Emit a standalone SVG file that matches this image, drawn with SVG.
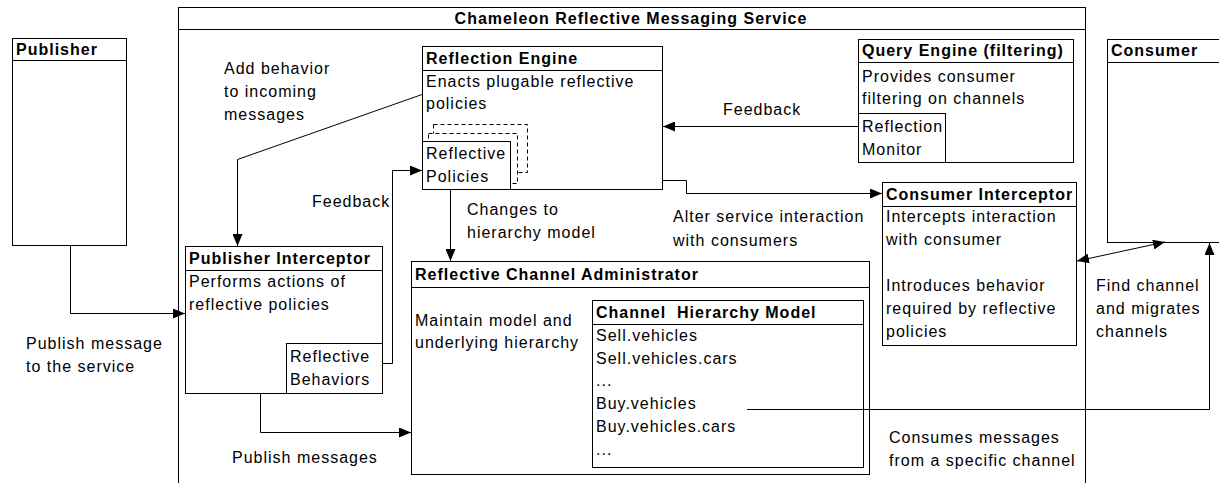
<svg xmlns="http://www.w3.org/2000/svg" width="1219" height="483" viewBox="0 0 1219 483">
  <style>
    .box { fill: #fff; stroke: #000; stroke-width: 1; }
    .rule { stroke: #000; stroke-width: 1; fill: none; }
    .dash { fill: #fff; stroke: #000; stroke-width: 1; stroke-dasharray: 4 3; }
    .t { font-family: "Liberation Sans", Arial, sans-serif; font-size: 16px; letter-spacing: 1px; fill: #000; }
    .b { font-weight: bold; }
    .conn { fill: none; stroke: #000; stroke-width: 1; }
  </style>
  <defs>
    <marker id="arrow" viewBox="0 0 12 10" refX="12" refY="5" markerWidth="12" markerHeight="10" markerUnits="userSpaceOnUse" orient="auto-start-reverse">
      <path d="M0,0 L12,5 L0,10 z" fill="#000"/>
    </marker>
  </defs>
  <rect width="1219" height="483" fill="#fff"/>

  <!-- service container -->
  <g id="service">
    <rect class="box" x="178.5" y="7.5" width="907" height="500"/>
    <line class="rule" x1="178.5" y1="29.5" x2="1085.5" y2="29.5"/>
    <text class="t b" x="631" y="24" text-anchor="middle">Chameleon Reflective Messaging Service</text>
  </g>

  <g id="publisher">
    <rect class="box" x="12.5" y="38.5" width="114" height="207"/>
    <line class="rule" x1="12.5" y1="60.5" x2="126.5" y2="60.5"/>
    <text class="t b" x="16" y="55">Publisher</text>
  </g>

  <g id="consumer">
    <rect class="box" x="1107.5" y="39.5" width="130" height="203"/>
    <line class="rule" x1="1107.5" y1="62.5" x2="1237.5" y2="62.5"/>
    <text class="t b" x="1111" y="56">Consumer</text>
  </g>

  <g id="reflection-engine">
    <rect class="box" x="422.5" y="46.5" width="240" height="143"/>
    <line class="rule" x1="422.5" y1="70.5" x2="662.5" y2="70.5"/>
    <text class="t b" x="426" y="64">Reflection Engine</text>
    <text class="t" x="426" y="87">Enacts plugable reflective</text>
    <text class="t" x="426" y="109">policies</text>
  </g>

  <g id="reflective-policies">
    <rect class="dash" x="433.5" y="124.5" width="94" height="48"/>
    <rect class="dash" x="428.5" y="133.5" width="89" height="50"/>
    <rect class="box" x="422.5" y="141.5" width="88" height="48"/>
    <text class="t" x="426" y="159">Reflective</text>
    <text class="t" x="426" y="182">Policies</text>
  </g>

  <g id="query-engine">
    <rect class="box" x="858.5" y="39.5" width="215" height="123"/>
    <line class="rule" x1="858.5" y1="62.5" x2="1073.5" y2="62.5"/>
    <text class="t b" x="862" y="56">Query Engine (filtering)</text>
    <text class="t" x="862" y="82">Provides consumer</text>
    <text class="t" x="862" y="104">filtering on channels</text>
  </g>

  <g id="reflection-monitor">
    <rect class="box" x="858.5" y="113.5" width="87" height="49"/>
    <text class="t" x="862" y="132">Reflection</text>
    <text class="t" x="862" y="155">Monitor</text>
  </g>

  <g id="consumer-interceptor">
    <rect class="box" x="882.5" y="182.5" width="194" height="163"/>
    <line class="rule" x1="882.5" y1="206.5" x2="1076.5" y2="206.5"/>
    <text class="t b" x="886" y="200">Consumer Interceptor</text>
    <text class="t" x="886" y="222">Intercepts interaction</text>
    <text class="t" x="886" y="245">with consumer</text>
    <text class="t" x="886" y="291">Introduces behavior</text>
    <text class="t" x="886" y="314">required by reflective</text>
    <text class="t" x="886" y="337">policies</text>
  </g>

  <g id="publisher-interceptor">
    <rect class="box" x="185.5" y="246.5" width="197" height="147"/>
    <line class="rule" x1="185.5" y1="270.5" x2="382.5" y2="270.5"/>
    <text class="t b" x="189" y="264">Publisher Interceptor</text>
    <text class="t" x="189" y="287">Performs actions of</text>
    <text class="t" x="189" y="310">reflective policies</text>
  </g>

  <g id="reflective-behaviors">
    <rect class="box" x="286.5" y="343.5" width="96" height="50"/>
    <text class="t" x="290" y="362">Reflective</text>
    <text class="t" x="290" y="385">Behaviors</text>
  </g>

  <g id="channel-administrator">
    <rect class="box" x="411.5" y="261.5" width="458" height="213"/>
    <line class="rule" x1="411.5" y1="287.5" x2="869.5" y2="287.5"/>
    <text class="t b" x="415" y="280">Reflective Channel Administrator</text>
    <text class="t" x="415" y="326">Maintain model and</text>
    <text class="t" x="415" y="348">underlying hierarchy</text>
  </g>

  <g id="channel-hierarchy-model">
    <rect class="box" x="592.5" y="300.5" width="271" height="167"/>
    <line class="rule" x1="592.5" y1="324.5" x2="863.5" y2="324.5"/>
    <text class="t b" x="596" y="318" xml:space="preserve">Channel  Hierarchy Model</text>
    <text class="t" x="596" y="341">Sell.vehicles</text>
    <text class="t" x="596" y="364">Sell.vehicles.cars</text>
    <text class="t" x="596" y="386">...</text>
    <text class="t" x="596" y="409">Buy.vehicles</text>
    <text class="t" x="596" y="432">Buy.vehicles.cars</text>
    <text class="t" x="596" y="455">...</text>
  </g>

  <!-- connectors -->
  <g id="connectors" class="conn">
    <path d="M70.5,245.5 V313.5 H185" marker-end="url(#arrow)"/>
    <path d="M422,94.5 L237.5,159.5 V246" marker-end="url(#arrow)"/>
    <path d="M382.5,363.5 H392.5 V170.5 H422" marker-end="url(#arrow)"/>
    <path d="M450.5,189.5 V261" marker-end="url(#arrow)"/>
    <path d="M662.5,180.5 H686.5 V193.5 H882" marker-end="url(#arrow)"/>
    <path d="M858.5,126.5 H663" marker-end="url(#arrow)"/>
    <path d="M260.5,393.5 V432.5 H411" marker-end="url(#arrow)"/>
    <path d="M747,409.5 H1209.5 V243" marker-end="url(#arrow)"/>
    <path d="M1077,261 L1165,242" marker-start="url(#arrow)" marker-end="url(#arrow)"/>
  </g>

  <!-- connector labels -->
  <g id="labels">
    <text class="t" x="224" y="74">Add behavior</text>
    <text class="t" x="224" y="97">to incoming</text>
    <text class="t" x="224" y="120">messages</text>
    <text class="t" x="723" y="115">Feedback</text>
    <text class="t" x="312" y="207">Feedback</text>
    <text class="t" x="467" y="215">Changes to</text>
    <text class="t" x="467" y="238">hierarchy model</text>
    <text class="t" x="673" y="222">Alter service interaction</text>
    <text class="t" x="673" y="246">with consumers</text>
    <text class="t" x="26" y="349">Publish message</text>
    <text class="t" x="26" y="372">to the service</text>
    <text class="t" x="232" y="463">Publish messages</text>
    <text class="t" x="1096" y="291">Find channel</text>
    <text class="t" x="1096" y="314">and migrates</text>
    <text class="t" x="1096" y="337">channels</text>
    <text class="t" x="889" y="443">Consumes messages</text>
    <text class="t" x="889" y="466">from a specific channel</text>
  </g>
</svg>
